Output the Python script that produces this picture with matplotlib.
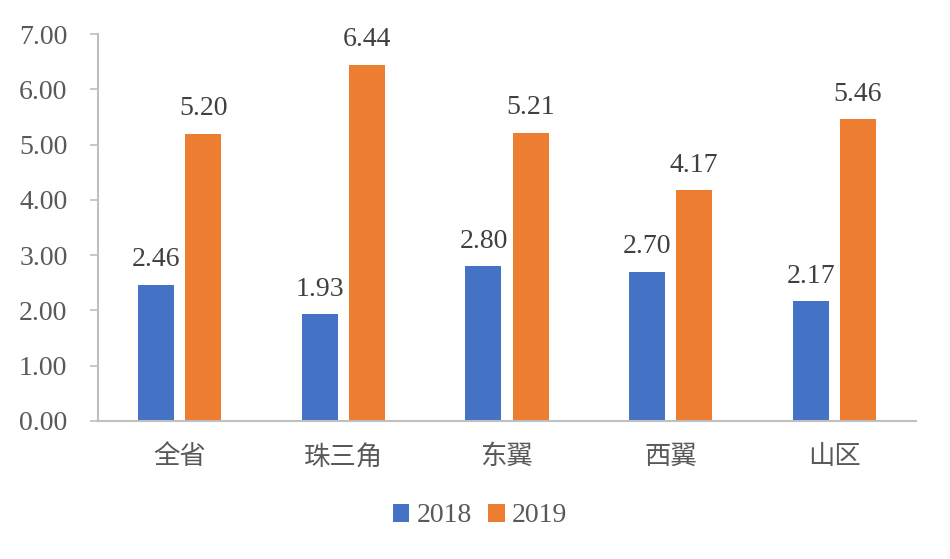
import matplotlib
matplotlib.use("Agg")
import matplotlib.pyplot as plt
import numpy as np

categories = ["全省", "珠三角", "东翼", "西翼", "山区"]
series_names = ["2018", "2019"]
values_2018 = [2.46, 1.93, 2.80, 2.70, 2.17]
values_2019 = [5.20, 6.44, 5.21, 4.17, 5.46]
yticks = [0, 1, 2, 3, 4, 5, 6, 7]

blue = "#4472C4"
orange = "#ED7D31"
gray_text = "#595959"
spine_gray = "#BFBFBF"

serif = ["Liberation Serif", "DejaVu Serif"]
cjk = ["Noto Sans CJK SC", "DejaVu Sans"]
fs = 20

fig = plt.figure(figsize=(9.5, 5.59), dpi=100)
ax = fig.add_axes([98/950, 1-421/559, (916-98)/950, (421-34)/559])

x = np.arange(len(categories))
w = 0.22
off = 0.144
b1 = ax.bar(x - off, values_2018, w, color=blue, label=series_names[0])
b2 = ax.bar(x + off, values_2019, w, color=orange, label=series_names[1])

for bars, vals in ((b1, values_2018), (b2, values_2019)):
    for rect, v in zip(bars, vals):
        ax.annotate(f"{v:.2f}", (rect.get_x() + rect.get_width()/2, v),
                    xytext=(0, 9), textcoords="offset points",
                    ha="center", va="bottom", fontsize=fs, family=serif,
                    color="#404040")

ax.set_xlim(-0.5, len(categories) - 0.5)
ax.set_ylim(0, 7)
ax.set_yticks(yticks)
ax.set_yticklabels([f"{t:.2f}" for t in yticks], family=serif, fontsize=fs, color=gray_text)
ax.set_xticks(x)
ax.set_xticklabels(categories, family=cjk, fontsize=fs - 1, color=gray_text)

for s in ["top", "right"]:
    ax.spines[s].set_visible(False)
for s in ["left", "bottom"]:
    ax.spines[s].set_color(spine_gray)
    ax.spines[s].set_linewidth(1.5)
ax.tick_params(axis="y", length=6, width=1.2, color=spine_gray, pad=16)
ax.tick_params(axis="x", length=0, pad=16)

leg = fig.legend(handles=[b1, b2], loc="center", bbox_to_anchor=(480/950, 1-516/559),
                 ncol=2, frameon=False, prop={"family": serif, "size": fs},
                 handlelength=0.6, handleheight=0.6, handletextpad=0.25, columnspacing=0.6)
for t in leg.get_texts():
    t.set_color(gray_text)

fig.savefig("out.png", dpi=100)
